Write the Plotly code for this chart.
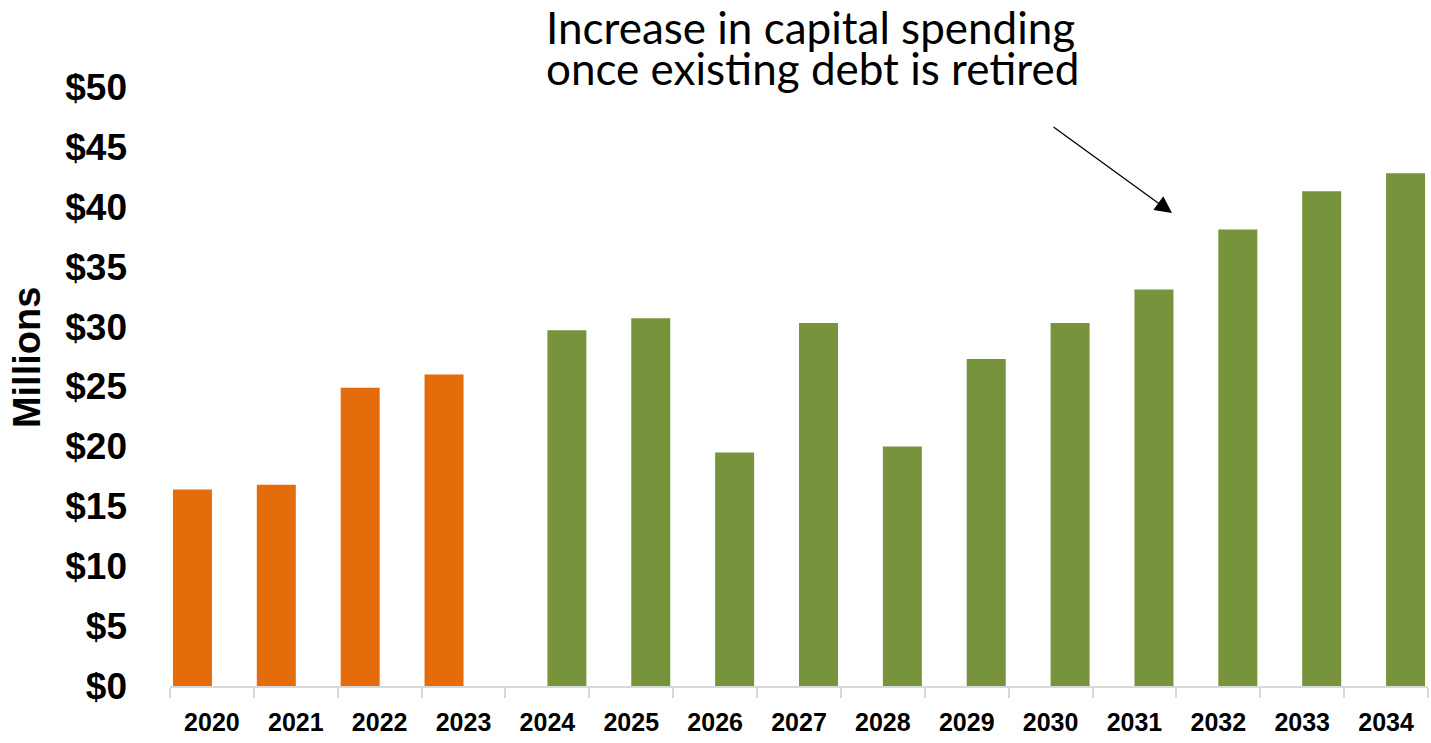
import plotly.graph_objects as go

# Annual capital spending, $ millions
years = ["2020", "2021", "2022", "2023", "2024", "2025", "2026", "2027",
         "2028", "2029", "2030", "2031", "2032", "2033", "2034"]
actual_years = ["2020", "2021", "2022", "2023"]
actual_values = [16.4, 16.8, 24.9, 26.0]
plan_years = ["2024", "2025", "2026", "2027", "2028", "2029", "2030",
              "2031", "2032", "2033", "2034"]
plan_values = [29.7, 30.7, 19.5, 30.3, 20.0, 27.3, 30.3, 33.1, 38.1, 41.3, 42.8]

y_ticks = [0, 5, 10, 15, 20, 25, 30, 35, 40, 45, 50]

note_lines = ["Increase in capital spending", "once existing debt is retired"]

ORANGE = "#E46C0A"
GREEN = "#77933C"
BOLD_SANS = "Liberation Sans Narrow, Arial Narrow, Liberation Sans, Arial, sans-serif"
BAR_W = 0.465  # each series occupies one half of its category slot

fig = go.Figure()
# Actual years sit in the left half of each slot, plan years in the right half
fig.add_trace(go.Bar(x=actual_years, y=actual_values, name="Actual",
                     width=BAR_W, offset=-BAR_W,
                     marker=dict(color=ORANGE, line=dict(width=0))))
fig.add_trace(go.Bar(x=plan_years, y=plan_values, name="Plan",
                     width=BAR_W, offset=0,
                     marker=dict(color=GREEN, line=dict(width=0))))

fig.update_layout(
    width=1431, height=743,
    margin=dict(l=170, r=3, t=87, b=57),
    paper_bgcolor="white", plot_bgcolor="white",
    barmode="overlay",
    showlegend=False,
    xaxis=dict(
        type="category", categoryorder="array", categoryarray=years,
        range=[-0.5, len(years) - 0.5],
        showgrid=False, showline=True, linecolor="#D9D9D9", linewidth=2,
        ticks="outside", tickson="boundaries", ticklen=10, tickwidth=2,
        tickcolor="#D9D9D9", ticklabelstandoff=13,
        tickfont=dict(family=BOLD_SANS, size=25, color="black", weight="bold"),
        zeroline=False,
    ),
    yaxis=dict(
        range=[0, 50], tickvals=y_ticks, ticktext=[f"${v}" for v in y_ticks],
        showgrid=False, showline=False, zeroline=False, ticks="",
        ticklabelstandoff=42,
        tickfont=dict(family=BOLD_SANS, size=37, color="black", weight="bold"),
    ),
)

# Rotated axis title
fig.add_annotation(text="Millions", xref="paper", yref="paper",
                   x=-0.1137, y=0.549, textangle=-90, showarrow=False,
                   xanchor="center", yanchor="middle",
                   font=dict(family=BOLD_SANS, size=38, color="black", weight="bold"))

# Callout text, one annotation per line
for i, line in enumerate(note_lines):
    fig.add_annotation(text=line, xref="paper", yref="paper",
                       x=(544 - 170) / 1258, y=(686 - (27 + 41 * i)) / 599,
                       xanchor="left", yanchor="middle", showarrow=False,
                       font=dict(family="Lato, sans-serif", size=44, color="black"))

# Callout arrow pointing at the later years
fig.add_annotation(text="", xref="paper", yref="paper",
                   x=(1172 - 170) / 1258, y=(686 - 213) / 599,
                   ax=-120, ay=-87, showarrow=True,
                   arrowhead=2, arrowsize=2.6, arrowwidth=1.3, arrowcolor="black",
                   standoff=0)

fig.write_html("out.html")
